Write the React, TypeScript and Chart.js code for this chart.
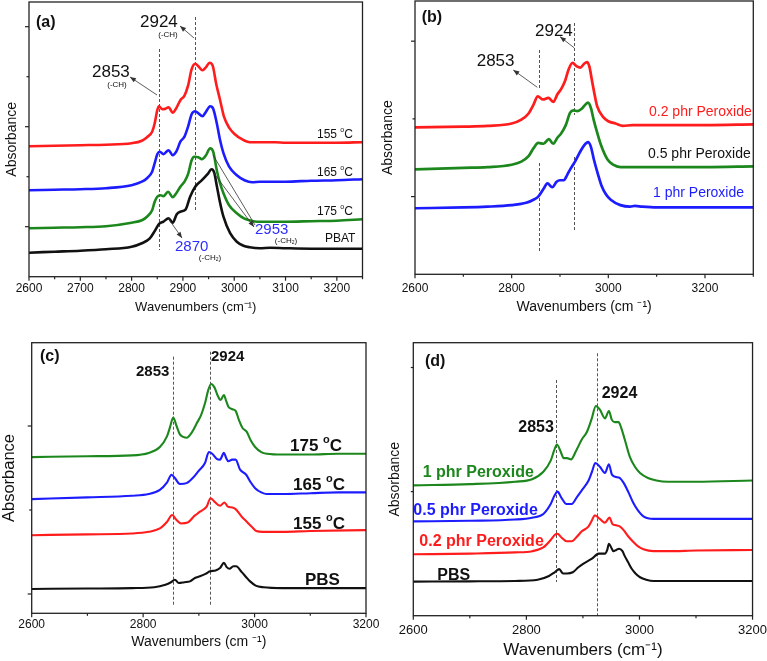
import React, { useEffect, useRef } from "react";
import { Chart, registerables } from "chart.js";

Chart.register(...registerables);

const FONT = "'Liberation Sans', Arial, Helvetica, sans-serif";
const RED = "rgb(255,28,28)";
const BLUE = "rgb(28,28,255)";
const GREEN = "rgb(28,135,28)";
const BLACK = "#111111";
const LBLUE = "rgb(45,45,255)";

// ---------- Panel (a): PBAT, effect of temperature ----------
const aXLabels = [2600, 2700, 2800, 2900, 3000, 3100, 3200];
const aXMinor = [2650, 2750, 2850, 2950, 3050, 3150, 3250];
const aYMajor = [1, 3, 5];
const aYMinor = [2, 4];
const aWave155 = [2600, 2650, 2700, 2750, 2800, 2820, 2830, 2840, 2845, 2850, 2853, 2860, 2866, 2872, 2880, 2887, 2895, 2903, 2910, 2917, 2924, 2930, 2938, 2945, 2952, 2958, 2965, 2972, 2980, 2990, 3000, 3015, 3030, 3050, 3080, 3100, 3150, 3200, 3250];
const aAbs155 = [2.61, 2.62, 2.63, 2.64, 2.67, 2.72, 2.79, 2.9, 3.07, 3.33, 3.41, 3.35, 3.36, 3.39, 3.28, 3.37, 3.53, 3.62, 3.82, 4.15, 4.26, 4.21, 4.13, 4.19, 4.28, 4.22, 3.85, 3.55, 3.2, 2.98, 2.86, 2.75, 2.69, 2.69, 2.69, 2.68, 2.68, 2.68, 2.69];
const aWave165 = [2600, 2650, 2700, 2750, 2800, 2820, 2830, 2840, 2845, 2850, 2855, 2862, 2872, 2880, 2887, 2895, 2903, 2910, 2917, 2924, 2930, 2938, 2945, 2953, 2959, 2966, 2972, 2979, 2990, 3005, 3020, 3035, 3050, 3100, 3150, 3200, 3250];
const aAbs165 = [1.73, 1.74, 1.75, 1.77, 1.83, 1.9, 1.97, 2.1, 2.27, 2.45, 2.5, 2.45, 2.53, 2.43, 2.5, 2.7, 2.8, 3.0, 3.25, 3.31, 3.27, 3.21, 3.3, 3.41, 3.36, 3.07, 2.75, 2.47, 2.2, 2.03, 1.93, 1.89, 1.9, 1.9, 1.92, 1.93, 1.95];
const aWave175 = [2600, 2650, 2700, 2750, 2800, 2820, 2830, 2840, 2845, 2850, 2856, 2862, 2871, 2880, 2887, 2895, 2903, 2910, 2917, 2922, 2930, 2937, 2945, 2953, 2959, 2966, 2972, 2979, 2990, 3005, 3020, 3030, 3045, 3060, 3100, 3150, 3200, 3250];
const aAbs175 = [0.97, 0.98, 0.99, 1.01, 1.08, 1.13, 1.2, 1.33, 1.5, 1.6, 1.63, 1.61, 1.7, 1.59, 1.67, 1.8, 1.9, 2.05, 2.33, 2.4, 2.39, 2.35, 2.43, 2.57, 2.5, 2.13, 1.88, 1.67, 1.43, 1.27, 1.16, 1.13, 1.1, 1.1, 1.1, 1.11, 1.12, 1.15];
const aWavePBAT = [2600, 2650, 2700, 2750, 2800, 2820, 2835, 2846, 2854, 2862, 2872, 2880, 2888, 2895, 2905, 2914, 2924, 2937, 2948, 2956, 2961, 2966, 2972, 2979, 2992, 3005, 3018, 3030, 3050, 3070, 3100, 3150, 3200, 3250];
const aAbsPBAT = [0.48, 0.5, 0.52, 0.55, 0.6, 0.67, 0.76, 0.93, 1.06, 1.1, 1.17, 1.08, 1.25, 1.3, 1.34, 1.6, 1.8, 1.93, 2.05, 2.15, 2.08, 1.82, 1.5, 1.2, 0.87, 0.7, 0.62, 0.59, 0.57, 0.58, 0.57, 0.56, 0.56, 0.56];
const aMarkers = [2853, 2924];

// ---------- Panel (b): PBAT, effect of peroxide ----------
const bXLabels = [2600, 2800, 3000, 3200];
const bXMinor = [2700, 2900, 3100, 3300];
const bYMajor = [1, 3];
const bYMinor = [2];
const bWave02 = [2600, 2700, 2750, 2800, 2820, 2835, 2845, 2854, 2865, 2876, 2886, 2895, 2902, 2910, 2918, 2926, 2934, 2942, 2950, 2956, 2961, 2966, 2972, 2977, 2990, 3000, 3015, 3030, 3050, 3100, 3200, 3300];
const bAbs02 = [1.89, 1.9, 1.91, 1.94, 1.99, 2.07, 2.18, 2.29, 2.25, 2.27, 2.22, 2.32, 2.38, 2.48, 2.64, 2.72, 2.68, 2.66, 2.71, 2.73, 2.67, 2.5, 2.3, 2.16, 2.02, 1.97, 1.94, 1.91, 1.92, 1.92, 1.92, 1.93];
const bWave05 = [2600, 2700, 2750, 2800, 2820, 2835, 2845, 2855, 2866, 2877, 2886, 2895, 2902, 2912, 2921, 2928, 2936, 2945, 2952, 2958, 2964, 2970, 2978, 2985, 2998, 3010, 3025, 3050, 3100, 3200, 3300];
const bAbs05 = [1.35, 1.37, 1.38, 1.41, 1.45, 1.52, 1.62, 1.69, 1.68, 1.74, 1.68, 1.76, 1.81, 1.92, 2.08, 2.11, 2.1, 2.13, 2.18, 2.21, 2.14, 1.98, 1.8, 1.66, 1.48, 1.41, 1.38, 1.38, 1.38, 1.38, 1.39];
const bWave1 = [2600, 2700, 2750, 2800, 2830, 2845, 2855, 2866, 2874, 2884, 2893, 2900, 2908, 2915, 2922, 2932, 2942, 2950, 2958, 2964, 2970, 2978, 2986, 2995, 3005, 3025, 3045, 3055, 3070, 3100, 3200, 3300];
const bAbs1 = [0.85, 0.86, 0.87, 0.89, 0.92, 0.96, 1.0, 1.1, 1.17, 1.12, 1.19, 1.21, 1.21, 1.28, 1.36, 1.46, 1.58, 1.66, 1.7, 1.64, 1.48, 1.3, 1.14, 1.03, 0.96, 0.89, 0.87, 0.88, 0.87, 0.86, 0.86, 0.86];
const bMarkers = [2856, 2930];

// ---------- Panel (c): PBS, effect of temperature ----------
const cXLabels = [2600, 2800, 3000, 3200];
const cXMinor = [2700, 2900, 3100];
const cYMajor = [0, 2];
const cYMinor = [1];
const cWave175 = [2600, 2700, 2780, 2810, 2830, 2843, 2848, 2854, 2860, 2866, 2872, 2878, 2888, 2896, 2904, 2911, 2917, 2922, 2928, 2934, 2939, 2945, 2949, 2953, 2960, 2966, 2972, 2978, 2986, 2993, 3001, 3012, 3022, 3050, 3100, 3150, 3200];
const cAbs175 = [1.63, 1.64, 1.65, 1.68, 1.75, 1.88, 1.98, 2.1, 2.0, 1.9, 1.87, 1.86, 1.93, 2.03, 2.13, 2.27, 2.43, 2.5, 2.46, 2.36, 2.31, 2.37, 2.3, 2.23, 2.2, 2.18, 2.07, 1.98, 1.93, 1.83, 1.75, 1.69, 1.67, 1.66, 1.66, 1.67, 1.67];
const cWave165 = [2600, 2700, 2780, 2810, 2830, 2843, 2851, 2857, 2866, 2878, 2889, 2899, 2911, 2918, 2924, 2932, 2938, 2945, 2949, 2953, 2960, 2966, 2974, 2985, 2993, 3001, 3012, 3022, 3050, 3100, 3150, 3200];
const cAbs165 = [1.13, 1.15, 1.17, 1.19, 1.24, 1.33, 1.42, 1.38, 1.31, 1.32, 1.38, 1.46, 1.56, 1.69, 1.67, 1.61, 1.6, 1.68, 1.62, 1.58, 1.6, 1.6, 1.48, 1.42, 1.33, 1.26, 1.21, 1.19, 1.19, 1.2, 1.21, 1.21];
const cWave155 = [2600, 2700, 2780, 2810, 2830, 2843, 2852, 2860, 2868, 2880, 2892, 2902, 2914, 2921, 2928, 2938, 2946, 2952, 2960, 2966, 2977, 2986, 2995, 3003, 3015, 3050, 3100, 3200];
const cAbs155 = [0.7, 0.71, 0.72, 0.74, 0.78, 0.86, 0.94, 0.88, 0.84, 0.85, 0.93, 0.98, 1.04, 1.14, 1.1, 1.05, 1.09, 1.04, 1.03, 1.01, 0.92, 0.86, 0.8, 0.75, 0.74, 0.74, 0.75, 0.76];
const cWavePBS = [2600, 2700, 2780, 2820, 2840, 2850, 2857, 2864, 2874, 2884, 2893, 2902, 2912, 2920, 2930, 2938, 2945, 2950, 2955, 2962, 2967, 2977, 2985, 2992, 3002, 3016, 3050, 3100, 3200];
const cAbsPBS = [0.06, 0.065, 0.07, 0.08, 0.11, 0.14, 0.17, 0.13, 0.14, 0.15, 0.19, 0.21, 0.24, 0.27, 0.28, 0.31, 0.37, 0.32, 0.3, 0.33, 0.33, 0.26, 0.2, 0.15, 0.1, 0.08, 0.07, 0.07, 0.07];
const cMarkers = [2853, 2920];

// ---------- Panel (d): PBS, effect of peroxide ----------
const dXLabels = [2600, 2800, 3000, 3200];
const dXMinor = [2700, 2900, 3100];
const dYMajor: number[] = [];
const dYMinor = [1, 2];
const dWave1 = [2600, 2700, 2780, 2810, 2830, 2843, 2849, 2854, 2860, 2866, 2872, 2879, 2888, 2898, 2907, 2915, 2923, 2930, 2939, 2946, 2951, 2956, 2963, 2968, 2974, 2983, 2992, 3001, 3015, 3030, 3050, 3100, 3200];
const dAbs1 = [1.05, 1.06, 1.08, 1.1, 1.16, 1.25, 1.33, 1.38, 1.33, 1.27, 1.27, 1.26, 1.33, 1.42, 1.48, 1.58, 1.69, 1.66, 1.59, 1.65, 1.58, 1.56, 1.56, 1.51, 1.42, 1.28, 1.2, 1.15, 1.11, 1.09, 1.08, 1.08, 1.09];
const dWave05 = [2600, 2700, 2780, 2810, 2830, 2843, 2850, 2855, 2862, 2871, 2880, 2890, 2898, 2910, 2916, 2922, 2930, 2939, 2946, 2951, 2957, 2965, 2972, 2980, 2989, 2997, 3007, 3025, 3050, 3100, 3200];
const dAbs05 = [0.76, 0.765, 0.775, 0.79, 0.82, 0.9, 0.97, 1.0, 0.95, 0.9, 0.9, 0.96, 1.01, 1.09, 1.16, 1.23, 1.2, 1.15, 1.22, 1.14, 1.12, 1.11, 1.07, 1.0, 0.91, 0.85, 0.8, 0.78, 0.78, 0.78, 0.78];
const dWave02 = [2600, 2700, 2780, 2810, 2830, 2843, 2850, 2855, 2862, 2871, 2880, 2890, 2898, 2910, 2916, 2921, 2930, 2939, 2947, 2952, 2957, 2965, 2972, 2980, 2988, 2997, 3007, 3025, 3050, 3100, 3200];
const dAbs02 = [0.495, 0.5, 0.51, 0.52, 0.55, 0.61, 0.65, 0.66, 0.63, 0.6, 0.6, 0.64, 0.68, 0.72, 0.77, 0.81, 0.78, 0.75, 0.79, 0.74, 0.73, 0.72, 0.69, 0.64, 0.6, 0.56, 0.535, 0.52, 0.52, 0.525, 0.53];
const dWavePBS = [2600, 2700, 2780, 2820, 2840, 2850, 2858, 2865, 2872, 2882, 2892, 2901, 2916, 2928, 2939, 2943, 2946, 2950, 2954, 2959, 2964, 2970, 2974, 2980, 2986, 2993, 3001, 3012, 3025, 3100, 3200];
const dAbsPBS = [0.275, 0.277, 0.28, 0.29, 0.32, 0.35, 0.375, 0.34, 0.34, 0.35, 0.39, 0.42, 0.46, 0.5, 0.5, 0.53, 0.58, 0.55, 0.52, 0.53, 0.54, 0.52, 0.48, 0.43, 0.38, 0.34, 0.31, 0.29, 0.28, 0.28, 0.28];
const dMarkers = [2853, 2925];

// ---------- types ----------
type Series = { xs: number[]; ys: number[]; color: string };
type Txt = { text: string; x: number; y: number; size: number; bold?: boolean; color?: string; align?: "left" | "center" };
type Arrow = { x1: number; y1: number; x2: number; y2: number; head: boolean };
type PanelCfg = {
  left: number; top: number; w: number; h: number;
  plot: { left: number; right: number; top: number; bottom: number };
  xMin: number; xMax: number; yMin: number; yMax: number;
  xLabels: number[]; xMinor: number[]; yMajor: number[]; yMinor: number[];
  series: Series[]; lineWidth: number;
  markers: number[]; markerSegs: [number, number][][];
  arrows: Arrow[]; texts: Txt[];
  tickFont: number; tickPad: number;
  xTitle: string; xTitleFont: number; xTitlePad: number;
  yTitleFont: number; yTitlePad: number;
};

function drawRich(ctx: CanvasRenderingContext2D, t: Txt) {
  const w = t.bold ? "bold " : "";
  const base = `${w}${t.size}px ${FONT}`;
  const small = `${w}${Math.round(t.size * 0.62)}px ${FONT}`;
  const parts: { s: string; mode: number }[] = [];
  for (let i = 0; i < t.text.length; i++) {
    const c = t.text[i];
    if ((c === "^" || c === "_") && i + 1 < t.text.length) {
      parts.push({ s: t.text[i + 1], mode: c === "^" ? 1 : -1 });
      i++;
    } else {
      const last = parts[parts.length - 1];
      if (last && last.mode === 0) last.s += c;
      else parts.push({ s: c, mode: 0 });
    }
  }
  const widths = parts.map((p) => {
    ctx.font = p.mode ? small : base;
    return ctx.measureText(p.s).width;
  });
  const total = widths.reduce((a, b) => a + b, 0);
  let x = t.align === "center" ? t.x - total / 2 : t.x;
  ctx.textBaseline = "middle";
  ctx.textAlign = "left";
  ctx.fillStyle = t.color || BLACK;
  parts.forEach((p, i) => {
    ctx.font = p.mode ? small : base;
    const dy = p.mode === 1 ? -t.size * 0.38 : p.mode === -1 ? t.size * 0.25 : 0;
    ctx.fillText(p.s, x, t.y + dy);
    x += widths[i];
  });
}

function makeDecor(cfg: PanelCfg) {
  return {
    id: "decor",
    beforeDatasetsDraw(chart: any) {
      const ctx: CanvasRenderingContext2D = chart.ctx;
      const xs = chart.scales.x;
      ctx.save();
      ctx.strokeStyle = "#555";
      ctx.lineWidth = 1;
      ctx.setLineDash([3, 2]);
      cfg.markers.forEach((m, i) => {
        const px = Math.round(xs.getPixelForValue(m)) + 0.5;
        cfg.markerSegs[i].forEach(([y1, y2]) => {
          ctx.beginPath();
          ctx.moveTo(px, y1);
          ctx.lineTo(px, y2);
          ctx.stroke();
        });
      });
      ctx.restore();
    },
    afterDraw(chart: any) {
      const ctx: CanvasRenderingContext2D = chart.ctx;
      const { left, right, top, bottom } = chart.chartArea;
      const xs = chart.scales.x;
      const ys = chart.scales.y;
      ctx.save();
      ctx.strokeStyle = "#222";
      ctx.lineWidth = 1.3;
      ctx.strokeRect(left, top, right - left, bottom - top);
      ctx.lineWidth = 1.2;
      const tick = (x1: number, y1: number, x2: number, y2: number) => {
        ctx.beginPath();
        ctx.moveTo(x1, y1);
        ctx.lineTo(x2, y2);
        ctx.stroke();
      };
      cfg.xLabels.forEach((v) => { const p = xs.getPixelForValue(v); tick(p, bottom, p, bottom + 4); });
      cfg.xMinor.forEach((v) => { const p = xs.getPixelForValue(v); tick(p, bottom, p, bottom + 2.5); });
      cfg.yMajor.forEach((v) => { const p = ys.getPixelForValue(v); tick(left - 4, p, left, p); });
      cfg.yMinor.forEach((v) => { const p = ys.getPixelForValue(v); tick(left - 2.5, p, left, p); });
      // arrows
      ctx.strokeStyle = "#333";
      ctx.fillStyle = "#333";
      ctx.lineWidth = 0.8;
      cfg.arrows.forEach((a) => {
        tick(a.x1, a.y1, a.x2, a.y2);
        if (a.head) {
          const ang = Math.atan2(a.y2 - a.y1, a.x2 - a.x1);
          const L = 6, W = 2.4;
          ctx.beginPath();
          ctx.moveTo(a.x2, a.y2);
          ctx.lineTo(a.x2 - L * Math.cos(ang) + W * Math.sin(ang), a.y2 - L * Math.sin(ang) - W * Math.cos(ang));
          ctx.lineTo(a.x2 - L * Math.cos(ang) - W * Math.sin(ang), a.y2 - L * Math.sin(ang) + W * Math.cos(ang));
          ctx.closePath();
          ctx.fill();
        }
      });
      cfg.texts.forEach((t) => drawRich(ctx, t));
      ctx.restore();
    },
  };
}

function Panel({ cfg }: { cfg: PanelCfg }) {
  const ref = useRef<HTMLCanvasElement | null>(null);
  useEffect(() => {
    const canvas = ref.current;
    if (!canvas) return;
    const chart = new Chart(canvas, {
      type: "line",
      data: {
        datasets: cfg.series.map((s) => ({
          data: s.xs.slice(0, Math.min(s.xs.length, s.ys.length)).map((x, i) => ({ x, y: s.ys[i] })),
          borderColor: s.color,
          borderWidth: cfg.lineWidth,
          pointRadius: 0,
          fill: false,
          cubicInterpolationMode: "monotone" as const,
        })),
      },
      options: {
        animation: false,
        responsive: false,
        maintainAspectRatio: false,
        events: [],
        layout: { padding: { left: 0, top: cfg.plot.top, right: cfg.w - cfg.plot.right, bottom: 0 } },
        plugins: { legend: { display: false }, tooltip: { enabled: false } },
        scales: {
          x: {
            type: "linear",
            position: "bottom",
            min: cfg.xMin,
            max: cfg.xMax,
            afterBuildTicks: (s: any) => { s.ticks = cfg.xLabels.map((v) => ({ value: v })); },
            afterFit: (s: any) => { s.height = cfg.h - cfg.plot.bottom; },
            grid: { display: false, drawTicks: true, tickLength: cfg.tickPad },
            border: { display: false },
            ticks: {
              color: "#111",
              font: { family: FONT, size: cfg.tickFont },
              padding: 0,
              maxRotation: 0,
              autoSkip: false,
              callback: (v: any) => String(v),
            },
            title: {
              display: true,
              text: cfg.xTitle,
              color: "#111",
              font: { family: FONT, size: cfg.xTitleFont },
              padding: { top: 0, bottom: cfg.xTitlePad },
            },
          },
          y: {
            type: "linear",
            min: cfg.yMin,
            max: cfg.yMax,
            afterBuildTicks: (s: any) => { s.ticks = cfg.yMajor.concat(cfg.yMinor).map((v) => ({ value: v })); },
            afterFit: (s: any) => { s.width = cfg.plot.left; },
            grid: { display: false, drawTicks: false, tickLength: 0 },
            border: { display: false },
            ticks: { display: false },
            title: {
              display: true,
              text: "Absorbance",
              color: "#111",
              font: { family: FONT, size: cfg.yTitleFont },
              padding: { top: cfg.yTitlePad, bottom: 0 },
            },
          },
        },
      },
      plugins: [makeDecor(cfg)],
    } as any);
    return () => chart.destroy();
  }, [cfg]);
  return (
    <canvas
      ref={ref}
      width={cfg.w}
      height={cfg.h}
      style={{ position: "absolute", left: cfg.left, top: cfg.top, width: cfg.w, height: cfg.h }}
    />
  );
}

const panelA: PanelCfg = {
  left: 0, top: 0, w: 380, h: 320,
  plot: { left: 29, right: 362.5, top: 2, bottom: 276.7 },
  xMin: 2600, xMax: 3250, yMin: 0, yMax: 5.494,
  xLabels: aXLabels, xMinor: aXMinor, yMajor: aYMajor, yMinor: aYMinor,
  series: [
    { xs: aWave155, ys: aAbs155, color: RED },
    { xs: aWave165, ys: aAbs165, color: BLUE },
    { xs: aWave175, ys: aAbs175, color: GREEN },
    { xs: aWavePBAT, ys: aAbsPBAT, color: BLACK },
  ],
  lineWidth: 2.6,
  markers: aMarkers,
  markerSegs: [[[49, 250]], [[17, 210]]],
  arrows: [
    { x1: 194, y1: 38, x2: 180, y2: 26, head: true },
    { x1: 157, y1: 95, x2: 130, y2: 77, head: true },
    { x1: 168, y1: 218, x2: 182, y2: 238, head: true },
    { x1: 213, y1: 155, x2: 255, y2: 225, head: false },
    { x1: 213, y1: 172, x2: 254, y2: 227, head: true },
  ],
  texts: [
    { text: "(a)", x: 36, y: 23, size: 16, bold: true },
    { text: "2924", x: 140, y: 22, size: 17 },
    { text: "(-CH)", x: 168, y: 35, size: 8, align: "center" },
    { text: "2853", x: 92, y: 72, size: 17 },
    { text: "(-CH)", x: 117, y: 85, size: 8, align: "center" },
    { text: "2870", x: 175, y: 247, size: 15, color: LBLUE },
    { text: "(-CH_2)", x: 210, y: 258, size: 8, align: "center" },
    { text: "2953", x: 255, y: 230, size: 15, color: LBLUE },
    { text: "(-CH_2)", x: 286, y: 241, size: 8, align: "center" },
    { text: "155 ^oC", x: 317, y: 135, size: 12 },
    { text: "165 ^oC", x: 317, y: 173, size: 12 },
    { text: "175 ^oC", x: 317, y: 212, size: 12 },
    { text: "PBAT", x: 325, y: 239, size: 12 },
  ],
  tickFont: 12, tickPad: 4.4,
  xTitle: "Wavenumbers (cm\u207B\u00B9)", xTitleFont: 13, xTitlePad: 5,
  yTitleFont: 14, yTitlePad: 3.3,
};

const panelB: PanelCfg = {
  left: 380, top: 0, w: 387, h: 320,
  plot: { left: 35, right: 373.3, top: 1, bottom: 274.3 },
  xMin: 2600, xMax: 3300, yMin: 0, yMax: 3.517,
  xLabels: bXLabels, xMinor: bXMinor, yMajor: bYMajor, yMinor: bYMinor,
  series: [
    { xs: bWave02, ys: bAbs02, color: RED },
    { xs: bWave05, ys: bAbs05, color: GREEN },
    { xs: bWave1, ys: bAbs1, color: BLUE },
  ],
  lineWidth: 2.7,
  markers: bMarkers,
  markerSegs: [[[50, 88], [163, 253]], [[23, 115], [157, 230]]],
  arrows: [
    { x1: 194, y1: 47.7, x2: 180, y2: 36.7, head: true },
    { x1: 157.3, y1: 87.3, x2: 133.3, y2: 70, head: true },
  ],
  texts: [
    { text: "(b)", x: 41.7, y: 18, size: 16, bold: true },
    { text: "2924", x: 155, y: 31, size: 17 },
    { text: "2853", x: 96.7, y: 61, size: 17 },
    { text: "0.2 phr Peroxide", x: 269, y: 112, size: 14, color: RED },
    { text: "0.5 phr Peroxide", x: 268, y: 154, size: 14, color: BLACK },
    { text: "1 phr Peroxide", x: 273, y: 193, size: 14, color: BLUE },
  ],
  tickFont: 12, tickPad: 6.8,
  xTitle: "Wavenumbers (cm \u207B\u00B9)", xTitleFont: 14, xTitlePad: 4.6,
  yTitleFont: 14, yTitlePad: 0,
};

const panelC: PanelCfg = {
  left: 0, top: 320, w: 380, h: 341,
  plot: { left: 31.7, right: 366, top: 22.7, bottom: 293.3 },
  xMin: 2600, xMax: 3200, yMin: -0.23, yMax: 2.992,
  xLabels: cXLabels, xMinor: cXMinor, yMajor: cYMajor, yMinor: cYMinor,
  series: [
    { xs: cWave175, ys: cAbs175, color: GREEN },
    { xs: cWave165, ys: cAbs165, color: BLUE },
    { xs: cWave155, ys: cAbs155, color: RED },
    { xs: cWavePBS, ys: cAbsPBS, color: BLACK },
  ],
  lineWidth: 2.1,
  markers: cMarkers,
  markerSegs: [[[36.7, 286.7]], [[31.7, 285]]],
  arrows: [],
  texts: [
    { text: "(c)", x: 40, y: 36.7, size: 16, bold: true },
    { text: "2853", x: 136, y: 51.7, size: 15, bold: true },
    { text: "2924", x: 211, y: 37.3, size: 15, bold: true },
    { text: "175 ^oC", x: 290, y: 126, size: 17, bold: true },
    { text: "165 ^oC", x: 293, y: 165.7, size: 17, bold: true },
    { text: "155 ^oC", x: 293, y: 204, size: 17, bold: true },
    { text: "PBS", x: 305, y: 260.7, size: 17, bold: true },
  ],
  tickFont: 12, tickPad: 4.5,
  xTitle: "Wavenumbers (cm \u207B\u00B9)", xTitleFont: 14, xTitlePad: 10.9,
  yTitleFont: 16.5, yTitlePad: 0,
};

const panelD: PanelCfg = {
  left: 380, top: 320, w: 387, h: 341,
  plot: { left: 33.3, right: 372.7, top: 22.7, bottom: 295.7 },
  xMin: 2600, xMax: 3200, yMin: 0, yMax: 2.2,
  xLabels: dXLabels, xMinor: dXMinor, yMajor: dYMajor, yMinor: dYMinor,
  series: [
    { xs: dWave1, ys: dAbs1, color: GREEN },
    { xs: dWave05, ys: dAbs05, color: BLUE },
    { xs: dWave02, ys: dAbs02, color: RED },
    { xs: dWavePBS, ys: dAbsPBS, color: BLACK },
  ],
  lineWidth: 2.1,
  markers: dMarkers,
  markerSegs: [[[60, 262]], [[33.3, 295.7]]],
  arrows: [],
  texts: [
    { text: "(d)", x: 45, y: 41.7, size: 16, bold: true },
    { text: "2853", x: 138.3, y: 107.3, size: 16, bold: true },
    { text: "2924", x: 221.7, y: 74, size: 16, bold: true },
    { text: "1 phr Peroxide", x: 42.7, y: 152.3, size: 16, bold: true, color: GREEN },
    { text: "0.5 phr Peroxide", x: 33.3, y: 190.7, size: 16, bold: true, color: BLUE },
    { text: "0.2 phr Peroxide", x: 39.3, y: 221.7, size: 16, bold: true, color: RED },
    { text: "PBS", x: 57.3, y: 256, size: 16, bold: true, color: BLACK },
  ],
  tickFont: 13, tickPad: 7.2,
  xTitle: "Wavenumbers (cm\u207B\u00B9)", xTitleFont: 17, xTitlePad: 0,
  yTitleFont: 14, yTitlePad: 6.6,
};

const PANELS = [panelA, panelB, panelC, panelD];

export default function App() {
  return (
    <div style={{ position: "fixed", left: 0, top: 0, width: 767, height: 661, background: "#ffffff", overflow: "hidden" }}>
      {PANELS.map((p, i) => (
        <Panel key={i} cfg={p} />
      ))}
    </div>
  );
}
